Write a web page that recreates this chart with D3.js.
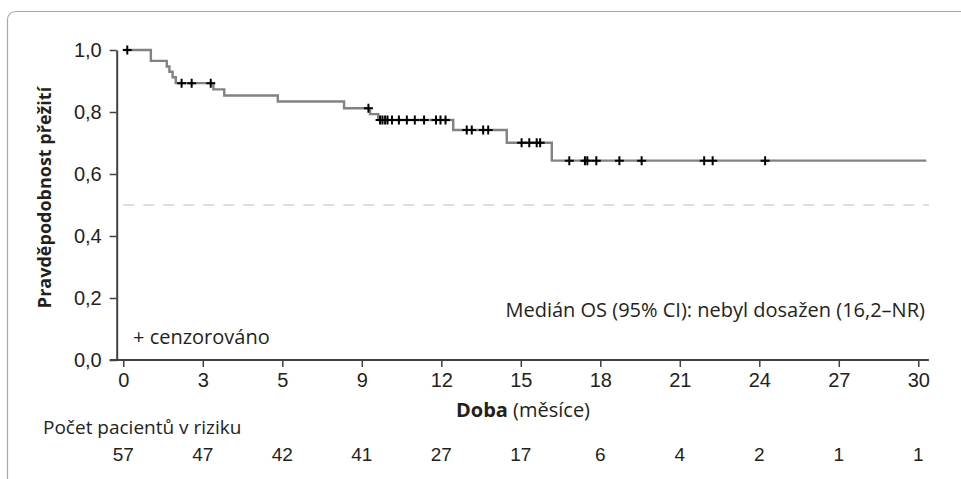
<!DOCTYPE html>
<html>
<head>
<meta charset="utf-8">
<script src="https://cdn.jsdelivr.net/npm/d3@7"></script>
<style>
  body { margin: 0; background: #fff; }
  svg { display: block; }
  .hum { font-family: "Open Sans", "Noto Sans", sans-serif; fill: #231f20; }
  .num { font-family: "Liberation Sans", Arial, sans-serif; fill: #231f20; }
</style>
</head>
<body>
<svg id="chart" width="961" height="479"></svg>
<script>
// Données (temps en mois, survie)
const eventTimes = [0, 1.04, 1.64, 1.74, 1.86, 1.98, 3.40, 3.81, 5.83, 8.33, 9.31, 9.62, 12.45, 14.47, 16.17, 30.3];
const survival   = [1.0, 0.965, 0.947, 0.930, 0.912, 0.893, 0.873, 0.853, 0.834, 0.812, 0.793, 0.774, 0.742, 0.701, 0.643, 0.643];
const censorTimes = [0.15, 2.2, 2.58, 3.3, 9.25, 9.69, 9.78, 9.88, 9.97, 10.14, 10.40, 10.70, 11.00, 11.35,
  11.80, 11.97, 12.16, 12.96, 13.15, 13.58, 13.77, 15.03, 15.32, 15.60, 15.73, 16.83, 17.42, 17.51,
  17.85, 18.72, 19.56, 21.92, 22.24, 24.22];
const xTicks = [0, 3, 6, 9, 12, 15, 18, 21, 24, 27, 30];
const xTickLabels = ["0", "3", "5", "9", "12", "15", "18", "21", "24", "27", "30"];
const yTicks = [0, 0.2, 0.4, 0.6, 0.8, 1.0];
const atRisk = [57, 47, 42, 41, 27, 17, 6, 4, 2, 1, 1];
const medianLevel = 0.5;

const svg = d3.select('#chart');

// cadre arrondi
const frame = d3.path();
frame.moveTo(7.5, 479);
frame.lineTo(7.5, 19.5);
frame.arcTo(7.5, 11.5, 15.5, 11.5, 8);
frame.lineTo(961, 11.5);
svg.append('path').attr('d', frame.toString())
  .attr('fill', 'none').attr('stroke', '#a7a9ac').attr('stroke-width', 1.2);

// échelles
const x = d3.scaleLinear().domain([0, 30]).range([123.3, 918.3]);
const y = d3.scaleLinear().domain([0, 1]).range([360, 50]);
const xLeft = 116.7;

// ligne de la médiane
svg.append('line')
  .attr('x1', x(0)).attr('x2', x(30.4))
  .attr('y1', y(medianLevel)).attr('y2', y(medianLevel))
  .attr('stroke', '#d1d3d4').attr('stroke-width', 1.3)
  .attr('stroke-dasharray', '11,9');

// axe Y
const yAxis = svg.append('g')
  .attr('transform', `translate(${xLeft},0)`)
  .call(d3.axisLeft(y).tickValues(yTicks).tickSize(7).tickPadding(8).tickSizeOuter(0)
    .tickFormat(d => d3.format('.1f')(d).replace('.', ',')));
yAxis.select('.domain').attr('stroke', '#414042').attr('stroke-width', 2);
yAxis.selectAll('.tick line').attr('stroke', '#414042').attr('stroke-width', 1.5);
yAxis.selectAll('.tick text').attr('class', 'num').style('font-size', '20px');

// axe X
const xAxis = svg.append('g')
  .attr('transform', `translate(0,${y(0)})`)
  .call(d3.axisBottom(x).tickValues(xTicks).tickSize(7).tickPadding(6).tickSizeOuter(0)
    .tickFormat((d, i) => xTickLabels[i]));
xAxis.select('.domain')
  .attr('d', `M${xLeft - 7},0H${x(30.4)}`)
  .attr('stroke', '#414042').attr('stroke-width', 2);
xAxis.selectAll('.tick line').attr('stroke', '#414042').attr('stroke-width', 1.5);
xAxis.selectAll('.tick text').attr('class', 'num').style('font-size', '20px');

// courbe de Kaplan-Meier
const kmData = eventTimes.map((t, i) => ({t, s: survival[i]}));
const line = d3.line().x(d => x(d.t)).y(d => y(d.s)).curve(d3.curveStepAfter);
svg.append('path').datum(kmData)
  .attr('d', line)
  .attr('fill', 'none').attr('stroke', '#808285').attr('stroke-width', 2.4);

// marques de censure
const survAt = t => survival[d3.bisectRight(eventTimes, t) - 1];
svg.append('g').selectAll('path')
  .data(censorTimes)
  .enter()
  .append('path')
  .attr('transform', d => `translate(${x(d)},${y(survAt(d))})`)
  .attr('d', 'M-4.5,0H4.5M0,-4.5V4.5')
  .attr('stroke', '#000').attr('stroke-width', 2);

// textes
svg.append('text').attr('class', 'hum')
  .attr('x', x(30.25)).attr('y', 317)
  .attr('text-anchor', 'end').style('font-size', '20px')
  .text('Medián OS (95% CI): nebyl dosažen (16,2–NR)');

svg.append('text').attr('class', 'hum')
  .attr('x', 133).attr('y', 344)
  .style('font-size', '20px')
  .text('+ cenzorováno');

const xTitle = svg.append('text').attr('class', 'hum')
  .attr('x', 523).attr('y', 417)
  .attr('text-anchor', 'middle').style('font-size', '20px');
xTitle.append('tspan').attr('font-weight', 'bold').text('Doba');
xTitle.append('tspan').text(' (měsíce)');

svg.append('text').attr('class', 'hum')
  .attr('transform', 'translate(51,197.5) rotate(-90)')
  .attr('text-anchor', 'middle').attr('font-weight', 'bold')
  .style('font-size', '18px')
  .text('Pravděpodobnost přežití');

svg.append('text').attr('class', 'hum')
  .attr('x', 43).attr('y', 434)
  .style('font-size', '19px')
  .text('Počet pacientů v riziku');

svg.append('g').selectAll('text')
  .data(atRisk)
  .enter()
  .append('text')
  .attr('class', 'num')
  .attr('x', (d, i) => x(xTicks[i]))
  .attr('y', 461)
  .attr('text-anchor', 'middle')
  .style('font-size', '19px')
  .text(d => d);
</script>
</body>
</html>
